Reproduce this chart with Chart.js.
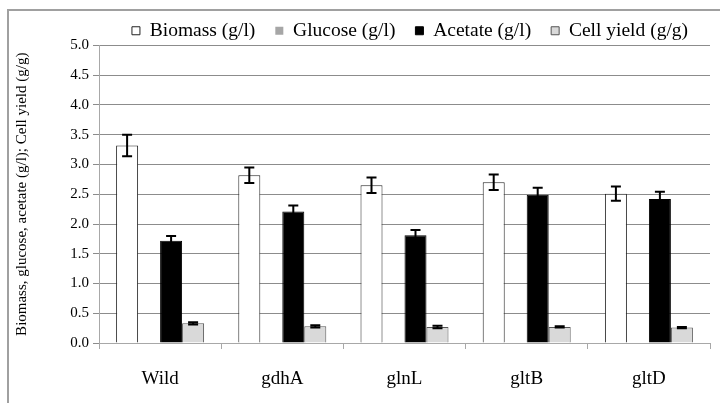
<!DOCTYPE html>
<html>
<head>
<meta charset="utf-8">
<script src="https://cdn.jsdelivr.net/npm/chart.js@4/dist/chart.umd.min.js"></script>
<style>
  body { margin: 0; background: #fff; }
  #wrap { position: relative; width: 720px; height: 403px; overflow: hidden; }
  #frame { position: absolute; left: 7px; top: 9px; width: 730px; height: 420px; border: 2px solid #a0a0a0; box-sizing: border-box; }
  canvas { position: absolute; left: 0; top: 0; }
</style>
</head>
<body>
<div id="wrap">
  <div id="frame"></div>
  <canvas id="myChart" width="720" height="403"></canvas>
</div>
<script>
var strains = ['Wild', 'gdhA', 'glnL', 'gltB', 'gltD'];

var biomass = [3.32, 2.82, 2.65, 2.70, 2.51];
var biomassErr = [0.18, 0.13, 0.13, 0.13, 0.12];
var glucose = [0, 0, 0, 0, 0];
var glucoseErr = [0, 0, 0, 0, 0];
var acetate = [1.72, 2.21, 1.81, 2.49, 2.42];
var acetateErr = [0.08, 0.10, 0.09, 0.12, 0.12];
var cellYield = [0.33, 0.28, 0.27, 0.27, 0.26];
var cellYieldErr = [0.02, 0.02, 0.02, 0.01, 0.01];

var serif = 'Liberation Serif';

// error bars drawn with the y scale
var errorBars = {
  id: 'errorBars',
  afterDatasetsDraw: function (chart) {
    var ctx = chart.ctx;
    var yScale = chart.scales.y;
    chart.data.datasets.forEach(function (ds, i) {
      if (!ds.errors) return;
      var meta = chart.getDatasetMeta(i);
      meta.data.forEach(function (bar, j) {
        var err = ds.errors[j];
        if (!err) return;
        var v = ds.data[j];
        var top = yScale.getPixelForValue(v + err);
        var bottom = yScale.getPixelForValue(v - err);
        var cap = 5;
        ctx.save();
        ctx.strokeStyle = '#000';
        ctx.lineWidth = 2;
        ctx.beginPath();
        ctx.moveTo(bar.x, top);
        ctx.lineTo(bar.x, bottom);
        ctx.moveTo(bar.x - cap, top);
        ctx.lineTo(bar.x + cap, top);
        ctx.moveTo(bar.x - cap, bottom);
        ctx.lineTo(bar.x + cap, bottom);
        ctx.stroke();
        ctx.restore();
      });
    });
  }
};

// move the legend like the original
var legendNudge = {
  id: 'legendNudge',
  afterLayout: function (chart) {
    var l = chart.legend;
    l.top += 5; l.bottom += 5;
    l.left += 50; l.right += 50;
  }
};

var ctx = document.getElementById('myChart').getContext('2d');
var myChart = new Chart(ctx, {
  type: 'bar',
  data: {
    labels: strains,
    datasets: [
      { label: 'Biomass (g/l)', data: biomass, errors: biomassErr,
        backgroundColor: '#ffffff', borderColor: '#222222', borderWidth: 1 },
      { label: 'Glucose (g/l)', data: glucose, errors: glucoseErr,
        backgroundColor: '#a6a6a6', borderColor: '#a6a6a6', borderWidth: 0 },
      { label: 'Acetate (g/l)', data: acetate, errors: acetateErr,
        backgroundColor: '#000000', borderColor: '#000000', borderWidth: 1 },
      { label: 'Cell yield (g/g)', data: cellYield, errors: cellYieldErr,
        backgroundColor: '#d9d9d9', borderColor: '#555555', borderWidth: 1 }
    ]
  },
  options: {
    responsive: false,
    animation: false,
    layout: { padding: { left: 10, right: 10, top: -4, bottom: 0 } },
    datasets: { bar: { barPercentage: 1.0, categoryPercentage: 0.72 } },
    plugins: {
      tooltip: { enabled: false },
      legend: {
        position: 'top',
        align: 'center',
        labels: {
          font: { family: serif, size: 19.5 },
          color: '#000',
          boxWidth: 8,
          boxHeight: 8,
          padding: 20
        }
      }
    },
    scales: {
      x: {
        grid: { drawOnChartArea: false, drawTicks: true, tickLength: 6, color: '#a8a8a8' },
        border: { color: '#a8a8a8' },
        ticks: { font: { family: serif, size: 19 }, color: '#000', padding: 19 },
        afterFit: function (scale) { scale.height = 60; }
      },
      y: {
        min: 0,
        max: 5,
        grid: { color: '#8c8c8c', tickLength: 6 },
        border: { color: '#a8a8a8' },
        ticks: {
          stepSize: 0.5,
          font: { family: serif, size: 15 },
          color: '#000',
          padding: 4,
          callback: function (v) { return v.toFixed(1); }
        },
        title: {
          display: true,
          text: 'Biomass, glucose, acetate (g/l); Cell yield (g/g)',
          font: { family: serif, size: 15 },
          color: '#000',
          padding: 3
        },
        afterFit: function (scale) { scale.width = 89; }
      }
    }
  },
  plugins: [errorBars, legendNudge]
});
</script>
</body>
</html>
